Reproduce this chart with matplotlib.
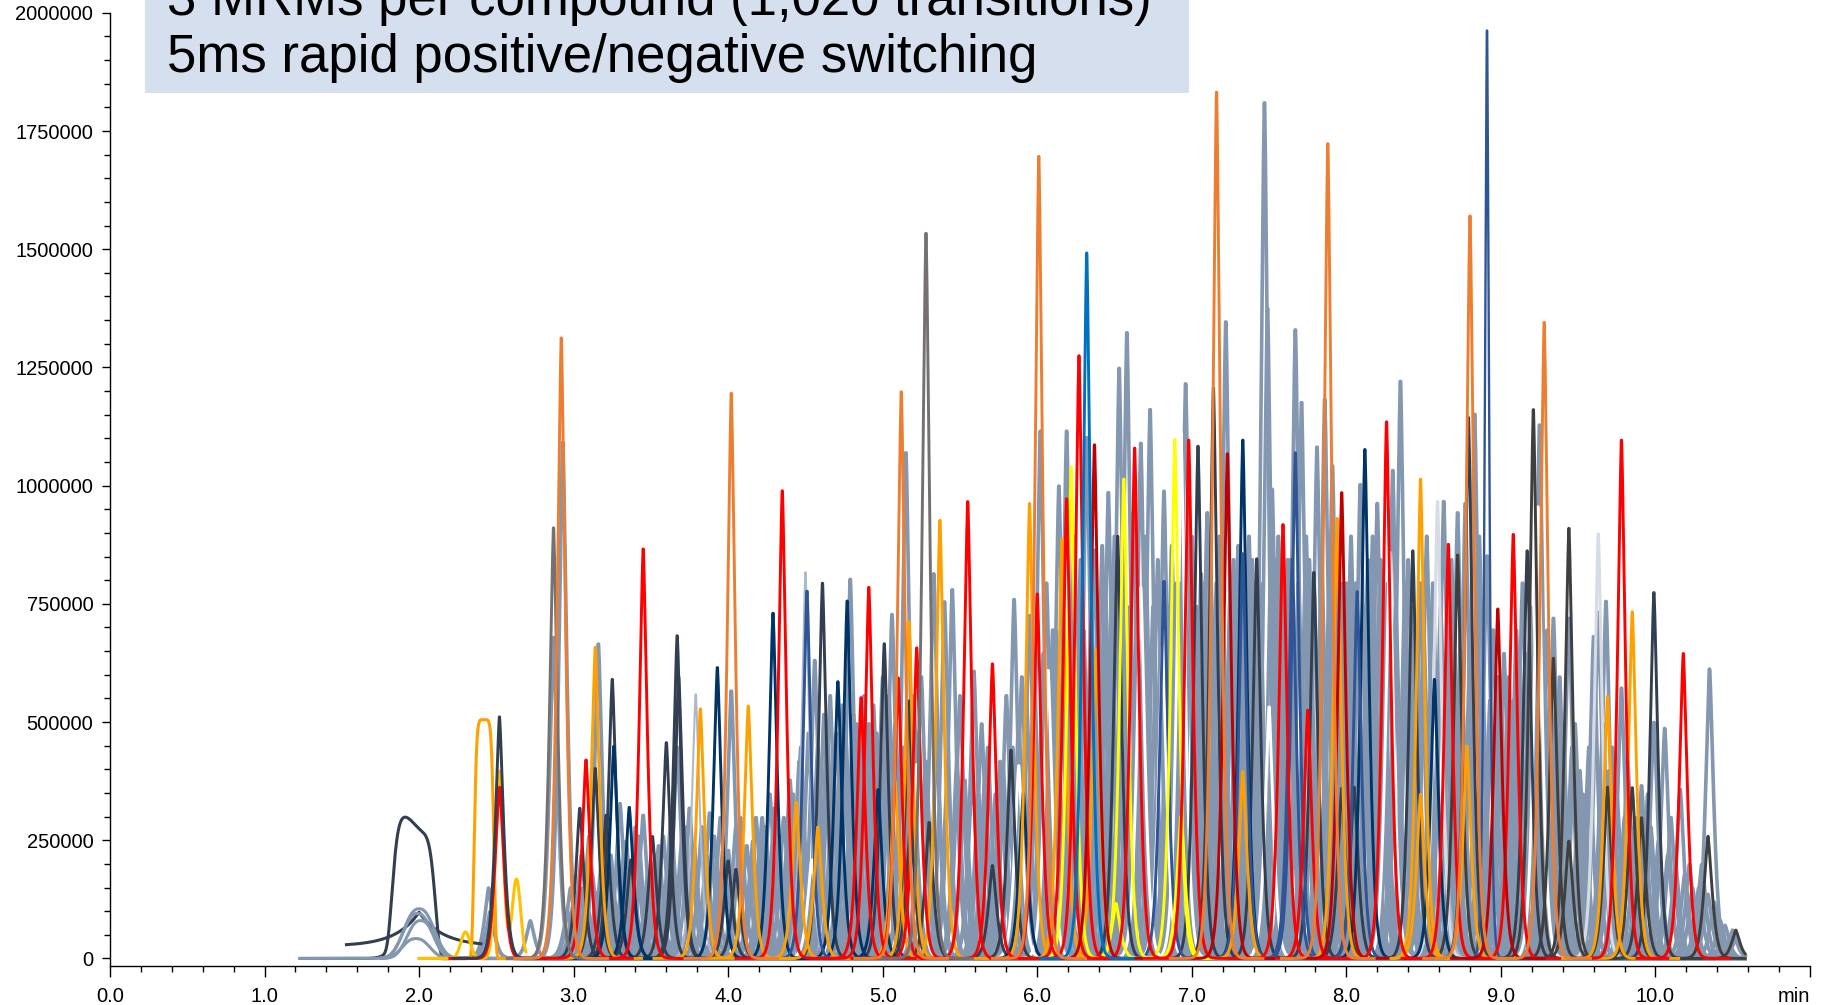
"""Overlay of MRM chromatograms (one trace per transition), rebuilt from peak apex readings."""
import numpy as np
import matplotlib
matplotlib.use("Agg")
import matplotlib.pyplot as plt
from matplotlib.ticker import MultipleLocator, FuncFormatter
from matplotlib.patches import Rectangle

plt.rcParams['font.family'] = ['Liberation Sans', 'DejaVu Sans']

# trace colours
GB = '#8497b0'        # slate grey-blue (most transitions)
LIGHTGB = '#adb9ca'
PALE = '#d6dce5'
WHITE = '#ffffff'
SLATE = '#333f50'
DKGRAY = '#3f3f3f'
NAVY = '#003366'
MIDBLUE = '#2f5597'
BLUE = '#0070c0'
GRAY = '#767171'
ORANGE = '#ed7d31'
AMBER = '#ffa000'
GOLD = '#ffc000'
YELLOW = '#ffff00'
RED = '#ff0000'
DARKRED = '#c00000'

T_START, T_END = 1.22, 10.58
WIDTH = 0.024      # peak width (min)
SHAPE = 0.7        # <1 gives the sharp apex / wide foot of real peaks

# ---- peak apex readings (retention time in min, height in counts) ----
gb_rt = [2.45, 2.46, 2.72, 2.87, 2.93, 2.98, 3.05, 3.10, 3.16, 3.20, 3.30, 3.34, 3.40, 3.45,
         3.55, 3.67, 3.72, 3.88, 3.97, 4.02, 4.08, 4.16, 4.22, 4.27, 4.33, 4.40, 4.47, 4.56,
         4.62, 4.66, 4.70, 4.74, 4.79, 4.83, 4.88, 4.94, 5.00, 5.04, 5.06, 5.15, 5.20, 5.25,
         5.33, 5.40, 5.45, 5.50, 5.59, 5.64, 5.68, 5.76, 5.80, 5.85, 5.90, 5.95, 6.02, 6.06,
         6.10, 6.14, 6.19, 6.24, 6.28, 6.32, 6.37, 6.42, 6.46, 6.50, 6.53, 6.58, 6.62, 6.67,
         6.70, 6.73, 6.78, 6.82, 6.87, 6.92, 6.96, 7.00, 7.06, 7.10, 7.18, 7.22, 7.27, 7.30,
         7.37, 7.41, 7.47, 7.49, 7.52, 7.56, 7.62, 7.67, 7.71, 7.74, 7.81, 7.86, 7.91, 7.95,
         8.00, 8.03, 8.09, 8.14, 8.17, 8.20, 8.24, 8.30, 8.35, 8.40, 8.45, 8.52, 8.63, 8.68,
         8.72, 8.77, 8.83, 8.86, 8.91, 8.95, 9.02, 9.10, 9.14, 9.19, 9.25, 9.30, 9.34, 9.38,
         9.44, 9.48, 9.55, 9.60, 9.63, 9.68, 9.72, 9.78, 9.82, 9.87, 9.91, 9.95, 9.99, 10.06,
         10.10, 10.16, 10.22, 10.28, 10.34, 10.35, 10.42, 10.50]
gb_h = [150000, 100000, 80000, 684000, 1100000, 150000, 220000, 260000, 670000, 300000, 330000,
        250000, 280000, 305000, 240000, 450000, 280000, 310000, 250000, 570000, 300000, 250000,
        300000, 350000, 260000, 380000, 450000, 635000, 520000, 560000, 480000, 540000, 808000,
        500000, 560000, 540000, 600000, 560000, 733000, 1078000, 560000, 600000, 820000, 760000,
        786000, 560000, 612000, 500000, 450000, 420000, 560000, 765000, 600000, 731000, 1124000,
        800000, 700000, 1007000, 1124000, 900000, 850000, 1110000, 870000, 880000, 993000, 900000,
        1258000, 1334000, 950000, 1098000, 900000, 1170000, 850000, 996000, 880000, 800000,
        1225000, 900000, 820000, 950000, 900000, 1357000, 850000, 880000, 900000, 800000, 1824000,
        1386000, 1000000, 900000, 850000, 1340000, 1185000, 900000, 1090000, 1192000, 1050000,
        850000, 800000, 900000, 1010000, 850000, 900000, 970000, 800000, 1040000, 1230000, 850000,
        700000, 900000, 974000, 850000, 950000, 970000, 1160000, 900000, 858000, 700000, 650000,
        700000, 800000, 750000, 1137000, 700000, 725000, 600000, 725000, 500000, 245000, 686000,
        738000, 761000, 450000, 576000, 420000, 300000, 368000, 350000, 503000, 490000, 300000,
        360000, 200000, 150000, 136000, 614000, 80000, 60000]

# smaller grey-blue transitions that build up the dense lower band
gb_minor_rt = [2.96, 3.00, 3.03, 3.06, 3.09, 3.12, 3.15, 3.18, 3.22, 3.24, 3.28, 3.31, 3.33,
               3.36, 3.38, 3.42, 3.48, 3.51, 3.53, 3.58, 3.61, 3.63, 3.70, 3.75, 3.78, 3.83,
               3.86, 3.91, 3.95, 4.00, 4.05, 4.12, 4.15, 4.18, 4.21, 4.24, 4.30, 4.36, 4.39,
               4.42, 4.46, 4.52, 4.58, 4.64, 4.68, 4.76, 4.81, 4.86, 4.91, 4.96, 5.02, 5.08,
               5.13, 5.18, 5.23, 5.28, 5.35, 5.42, 5.48, 5.53, 5.58, 5.62, 5.66, 5.73, 5.78,
               5.84, 5.88, 5.93, 5.98, 6.04, 6.08, 6.12, 6.17, 6.22, 6.26, 6.30, 6.35, 6.40,
               6.44, 6.48, 6.55, 6.60, 6.65, 6.69, 6.75, 6.80, 6.85, 6.90, 6.94, 6.99, 7.03,
               7.08, 7.12, 7.16, 7.20, 7.25, 7.32, 7.35, 7.39, 7.44, 7.54, 7.58, 7.64, 7.69,
               7.76, 7.79, 7.84, 7.89, 7.93, 7.98, 8.02, 8.06, 8.11, 8.16, 8.22, 8.27, 8.32,
               8.38, 8.43, 8.48, 8.50, 8.56, 8.61, 8.66, 8.70, 8.74, 8.80, 8.88, 8.93, 8.98,
               9.00, 9.05, 9.08, 9.12, 9.16, 9.22, 9.28, 9.32, 9.36, 9.40, 9.46, 9.51, 9.53,
               9.57, 9.66, 9.70, 9.75, 9.80, 9.84, 9.89, 9.93, 9.97, 10.02, 10.08, 10.13, 10.19,
               10.24, 10.30, 10.38, 10.45, 10.52]
gb_minor_h = [100000, 120000, 90000, 150000, 110000, 180000, 140000, 200000, 160000, 220000,
              190000, 150000, 240000, 170000, 200000, 260000, 180000, 140000, 220000, 260000,
              200000, 300000, 250000, 320000, 240000, 280000, 220000, 260000, 300000, 230000,
              280000, 240000, 200000, 300000, 250000, 280000, 320000, 300000, 260000, 350000,
              420000, 480000, 450000, 500000, 420000, 480000, 520000, 450000, 500000, 480000,
              520000, 500000, 450000, 500000, 480000, 420000, 450000, 400000, 420000, 380000,
              400000, 350000, 380000, 350000, 400000, 450000, 500000, 550000, 600000, 650000,
              600000, 700000, 650000, 700000, 750000, 700000, 750000, 700000, 800000, 750000,
              800000, 750000, 800000, 700000, 750000, 700000, 750000, 800000, 750000, 800000,
              750000, 800000, 850000, 800000, 750000, 800000, 750000, 800000, 850000, 800000,
              850000, 800000, 850000, 800000, 850000, 800000, 850000, 800000, 750000, 800000,
              750000, 800000, 750000, 800000, 850000, 800000, 750000, 800000, 750000, 800000,
              700000, 800000, 750000, 700000, 650000, 700000, 650000, 600000, 550000, 600000,
              550000, 600000, 550000, 600000, 650000, 600000, 550000, 600000, 550000, 500000,
              450000, 400000, 350000, 450000, 500000, 400000, 350000, 300000, 280000, 250000,
              300000, 280000, 250000, 220000, 200000, 180000, 150000, 200000, 120000, 70000,
              40000]

lightgb_rt = [3.79, 4.50, 8.63]
lightgb_h = [563000, 823000, 340000]

pale_rt = [8.59, 9.63]
pale_h = [974000, 905000]

white_rt = [4.54, 5.22, 5.88, 6.07, 6.67, 6.81, 6.93, 7.50, 8.28, 9.24]
white_h = [210000, 413000, 411000, 614000, 790000, 667000, 1120000, 536000, 866000, 963000]

slate_rt = [2.52, 3.04, 3.14, 3.21, 3.25, 3.37, 3.51, 3.60, 3.67, 3.68, 4.00, 4.05, 4.61, 5.01,
            5.17, 5.18, 5.30, 5.71, 5.83, 6.52, 7.04, 7.14, 7.42, 7.79, 7.97, 8.05, 8.43, 8.79,
            9.17, 9.99]
slate_h = [515000, 320000, 405000, 305000, 595000, 210000, 260000, 460000, 688000, 600000,
           208000, 190000, 800000, 671000, 549000, 290000, 290000, 198000, 444000, 900000,
           1092000, 1216000, 852000, 823000, 363000, 365000, 869000, 1153000, 869000, 780000]

dkgray_rt = [8.72, 9.21, 9.34, 9.44, 9.44, 9.69, 9.85, 9.91, 10.34, 10.52]
dkgray_h = [860000, 1170000, 640000, 917000, 250000, 365000, 364000, 300000, 259000, 60000]

navy_rt = [3.26, 3.36, 3.93, 4.29, 4.71, 4.77, 4.97, 5.91, 7.33, 8.12, 8.57]
navy_h = [452000, 322000, 620000, 736000, 590000, 762000, 360000, 352000, 1105000, 1085000,
          595000]

midblue_rt = [4.51, 6.82, 7.33, 7.65, 7.67, 8.07]
midblue_h = [783000, 804000, 863000, 852000, 1078000, 782000]
spike_rt = [8.91]
spike_h = [2000000]

blue_rt = [6.32]
blue_h = [1504000]

gray_rt = [2.87, 5.28]
gray_h = [918000, 1546000]

orange_rt = [2.92, 4.02, 5.12, 6.01, 7.16, 7.88, 8.80, 9.28]
orange_h = [1323000, 1205000, 1208000, 1710000, 1847000, 1737000, 1583000, 1356000]

amber_rt = [3.14, 3.82, 4.13, 4.44, 4.58, 5.08, 5.17, 5.37, 5.95, 6.16, 6.38, 7.33, 7.94, 8.48,
            8.48, 8.78, 9.69, 9.85]
amber_h = [663000, 532000, 538000, 333000, 280000, 377000, 718000, 934000, 970000, 895000,
           660000, 398000, 938000, 1022000, 350000, 453000, 559000, 739000]

yellow_rt = [6.22, 6.51, 6.56, 6.89, 6.93]
yellow_h = [1048000, 117000, 1022000, 1107000, 303000]

red_rt = [3.08, 3.45, 4.35, 4.86, 4.91, 5.10, 5.22, 5.55, 5.71, 6.00, 6.19, 6.27, 6.63, 6.98,
          7.59, 7.75, 8.26, 8.66, 9.08, 9.78, 10.18]
red_h = [423000, 873000, 997000, 556000, 791000, 598000, 662000, 974000, 628000, 777000, 980000,
         1285000, 1088000, 1105000, 925000, 529000, 1144000, 883000, 904000, 1105000, 650000]

darkred_rt = [6.37, 7.23, 7.97, 8.98]
darkred_h = [1095000, 1076000, 993000, 745000]

# early broad / flat-topped elutions: traces, then the components summed into each trace
early_color = [SLATE, SLATE, GB, GB, GB, GB, AMBER, GOLD, RED]
early_start = [1.23, 1.53, 1.23, 1.75, 1.75, 1.75, 2.00, 2.00, 2.20]
early_end = [2.40, 2.40, 2.40, 2.45, 2.45, 2.45, 2.60, 2.69, 2.69]
early_offset = [0, 26000, 0, 0, 0, 0, 0, 0, 0]
comp_trace = [0, 0, 1, 2, 3, 4, 5, 6, 7, 7, 7, 8]
comp_rt = [1.965, 1.90, 2.00, 2.00, 1.99, 2.01, 1.98, 2.42, 2.30, 2.52, 2.63, 2.52]
comp_h = [260000, 40000, 72000, 105000, 95000, 80000, 42000, 505000, 56000, 396000, 168000,
          362000]
comp_w = [0.13, 0.07, 0.075, 0.095, 0.09, 0.085, 0.085, 0.06, 0.03, 0.024, 0.027, 0.027]
comp_flat = [3.0, 1.0, 0.5, 1.2, 1.2, 1.2, 1.2, 3.0, 1.0, 0.9, 1.0, 0.8]

x_ticks = list(range(12))
x_labels = [f'{v:.1f}' for v in range(11)] + ['min']

title_lines = ['3 MRMs per compound (1,020 transitions)',
               '5ms rapid positive/negative switching']


def peak(t, rt, h, w, flat=SHAPE):
    return h * np.exp(-0.5 * np.abs((t - rt) / w) ** (2 * flat))


def draw_series(ax, rts, hs, colour, lw, z, width=WIDTH):
    for rt, h in zip(rts, hs):
        t = np.linspace(max(T_START, rt - 0.3), min(T_END, rt + 0.3), 240)
        ax.plot(t, peak(t, rt, h, width), color=colour, lw=lw, zorder=z,
                solid_joinstyle='round')


fig = plt.figure(figsize=(18.25, 10.05), dpi=100)
ax = fig.add_axes([110 / 1825, 1 - 966 / 1005, 1700 / 1825, (966 - 12.8) / 1005])

# early broad traces
for i, (c, s, e, off) in enumerate(zip(early_color, early_start, early_end, early_offset)):
    t = np.linspace(s, e, 400)
    y = np.full_like(t, off, dtype=float)
    for k, rt, h, w, fl in zip(comp_trace, comp_rt, comp_h, comp_w, comp_flat):
        if k == i:
            y += peak(t, rt, h, w, fl)
    ax.plot(t, y, color=c, lw=2.2, zorder=2)

draw_series(ax, gb_minor_rt, gb_minor_h, GB, 2.7, 1)
draw_series(ax, gb_rt, gb_h, GB, 2.6, 1)
draw_series(ax, lightgb_rt, lightgb_h, LIGHTGB, 1.5, 2)
draw_series(ax, pale_rt, pale_h, PALE, 2.2, 2)
draw_series(ax, white_rt, white_h, WHITE, 2.1, 3)
draw_series(ax, slate_rt, slate_h, SLATE, 2.1, 3)
draw_series(ax, dkgray_rt, dkgray_h, DKGRAY, 2.1, 3)
draw_series(ax, navy_rt, navy_h, NAVY, 2.1, 3)
draw_series(ax, midblue_rt, midblue_h, MIDBLUE, 2.1, 3)
draw_series(ax, spike_rt, spike_h, MIDBLUE, 1.7, 4, width=0.013)
draw_series(ax, amber_rt, amber_h, AMBER, 2.1, 4)
draw_series(ax, yellow_rt, yellow_h, YELLOW, 2.1, 4)
draw_series(ax, red_rt, red_h, RED, 2.1, 4)
draw_series(ax, darkred_rt, darkred_h, DARKRED, 2.1, 4)
draw_series(ax, gray_rt, gray_h, GRAY, 2.1, 5)
draw_series(ax, blue_rt, blue_h, BLUE, 2.1, 5)
draw_series(ax, orange_rt, orange_h, ORANGE, 2.1, 5)

ax.set_xlim(0, 11)
ax.set_ylim(-16000, 2000000)
for side in ('top', 'right'):
    ax.spines[side].set_visible(False)
for side in ('left', 'bottom'):
    ax.spines[side].set_linewidth(1.0)

ax.set_xticks(x_ticks, labels=x_labels)
ax.get_xticklabels()[-1].set_horizontalalignment('right')
ax.xaxis.set_minor_locator(MultipleLocator(0.2))
ax.yaxis.set_major_locator(MultipleLocator(250000))
ax.yaxis.set_minor_locator(MultipleLocator(50000))
ax.yaxis.set_major_formatter(FuncFormatter(lambda v, p: f'{int(round(v))}'))
ax.tick_params(axis='x', which='major', length=8, width=1.0, pad=7, labelsize=14.5)
ax.tick_params(axis='x', which='minor', length=4, width=1.0)
ax.tick_params(axis='y', which='major', length=6, width=1.0, pad=6, labelsize=14.5)
ax.tick_params(axis='y', which='minor', length=4, width=1.0)

# caption box (its first line runs off the top edge, as in the source slide)
box = Rectangle((145 / 1825, 1 - 93 / 1005), (1189 - 145) / 1825, 0.2,
                transform=fig.transFigure, facecolor='#d5dfee', edgecolor='none', zorder=10)
fig.add_artist(box)
fig.text(167 / 1825, 1 - 15 / 1005, title_lines[0], fontsize=38, va='baseline', zorder=11)
fig.text(167 / 1825, 1 - 72 / 1005, title_lines[1], fontsize=38, va='baseline', zorder=11)

fig.savefig('out.png', dpi=100)
